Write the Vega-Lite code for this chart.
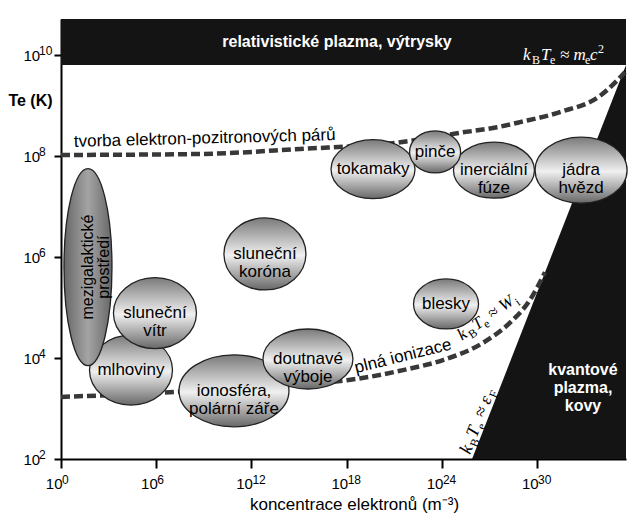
{
"$schema":"https://vega.github.io/schema/vega-lite/v6.json",
"width":565,"height":440,
"autosize":{"type":"none"},
"padding":{"left":61,"top":19,"right":14,"bottom":64},
"background":"white",
"config":{"view":{"stroke":null},"font":"Liberation Sans","text":{"lineBreak":"\n"}},
"datasets":{
 "band":[{"n":0,"n2":35.6,"T":9.8,"T2":10.713}],
 "quantum":[{"n":25.9,"T":2},{"n":35.6,"T":9.8}],
 "curves":[
  {"curve":"pary","n":0,"T":8.02},{"curve":"pary","n":8.76,"T":8.04},{"curve":"pary","n":15.06,"T":8.14},{"curve":"pary","n":21.05,"T":8.26},{"curve":"pary","n":25.14,"T":8.46},{"curve":"pary","n":27.47,"T":8.57},{"curve":"pary","n":28.92,"T":8.67},{"curve":"pary","n":31.44,"T":8.87},{"curve":"pary","n":33.96,"T":9.19},{"curve":"pary","n":35.54,"T":9.66},
  {"curve":"ionizace","n":0,"T":3.23},{"curve":"ionizace","n":7.31,"T":3.33},{"curve":"ionizace","n":12.54,"T":3.45},{"curve":"ionizace","n":18.02,"T":3.56},{"curve":"ionizace","n":21.55,"T":3.76},{"curve":"ionizace","n":24.07,"T":3.96},{"curve":"ionizace","n":26.59,"T":4.3},{"curve":"ionizace","n":28.29,"T":4.7},{"curve":"ionizace","n":29.55,"T":5.15},{"curve":"ionizace","n":30.5,"T":5.7}
 ],
 "regions":[
  {"name":"mlhoviny","label":"mlhoviny","n":4.41,"T":3.76},
  {"name":"vitr","label":"sluneční\nvítr","n":5.92,"T":4.89},
  {"name":"korona","label":"sluneční\nkoróna","n":12.85,"T":6.06},
  {"name":"ionosfera","label":"ionosféra,\npolární záře","n":10.9,"T":3.35},
  {"name":"doutnave","label":"doutnavé\nvýboje","n":15.56,"T":3.98},
  {"name":"blesky","label":"blesky","n":24.26,"T":5.07},
  {"name":"tokamaky","label":"tokamaky","n":19.66,"T":7.74},
  {"name":"inercialni","label":"inerciální\nfúze","n":27.28,"T":7.72},
  {"name":"pince","label":"pinče","n":23.57,"T":8.08},
  {"name":"jadra","label":"jádra\nhvězd","n":32.77,"T":7.72}
 ],
 "mezi":[{"name":"mezi","label":"mezigalaktické\nprostředí","n":1.7,"T":5.8}],
 "bandText":[{"n":17.39,"T":10.26,"label":"relativistické plazma, výtrysky"},{"n":32.89,"T":3.76,"label":"kvantové\nplazma,\nkovy"}],
 "pairLabel":[{"n":0.82,"T":8.18,"label":"tvorba elektron-pozitronových párů"}],
 "ionLabel":[{"n":18.59,"T":3.7,"label":"plná ionizace"}],
 "xSup":[{"n":0,"T":2,"sup":"0"},{"n":6,"T":2,"sup":"6"},{"n":12,"T":2,"sup":"12"},{"n":18,"T":2,"sup":"18"},{"n":24,"T":2,"sup":"24"},{"n":30,"T":2,"sup":"30"}],
 "ySup":[{"n":0,"T":2,"sup":"2"},{"n":0,"T":4,"sup":"4"},{"n":0,"T":6,"sup":"6"},{"n":0,"T":8,"sup":"8"},{"n":0,"T":10,"sup":"10"}],
 "fA":[{"n":29.11,"T":9.9}],
 "fB":[{"n":25.27,"T":4.34}],
 "fC":[{"n":25.77,"T":2.08}]
},
"encoding":{
 "x":{"field":"n","type":"quantitative","scale":{"domain":[0,35.6],"nice":false,"zero":false},
  "axis":{"values":[0,6,12,18,24,30],"labelExpr":"'10'","labelFlush":false,"labelAlign":"right","labelOffset":1,"grid":false,"domainColor":"black","domainWidth":2,"tickColor":"black","tickWidth":2,"tickSize":9,"labelFontSize":15,"labelColor":"black","labelPadding":8,"labelFont":"Liberation Sans","title":"koncentrace elektronů (m⁻³)","titleFontSize":17,"titleFontWeight":"normal","titleColor":"black","titleFont":"Liberation Sans","titleX":293,"titleY":50,"titleAlign":"center","titleBaseline":"alphabetic"}},
 "y":{"field":"T","type":"quantitative","scale":{"domain":[2,10.713],"nice":false,"zero":false},
  "axis":{"values":[2,4,6,8,10],"labelExpr":"'10'","labelFlush":false,"labelAlign":"left","grid":false,"domainColor":"black","domainWidth":2,"tickColor":"black","tickWidth":2,"tickSize":7,"labelFontSize":15,"labelColor":"black","labelPadding":31,"labelFont":"Liberation Sans","title":"Te (K)","titleAngle":0,"titleX":-31,"titleY":81,"titleAlign":"center","titleBaseline":"middle","titleFontSize":16,"titleFontWeight":"bold","titleColor":"black","titleFont":"Liberation Sans"}}
},
"layer":[
 {"data":{"name":"band"},"mark":{"type":"rect","color":"#141414"},"encoding":{"x2":{"field":"n2"},"y2":{"field":"T2"}}},
 {"data":{"name":"quantum"},"mark":{"type":"area","color":"#141414","opacity":1},"encoding":{"y2":{"datum":2}}},
 {"data":{"name":"curves"},"mark":{"type":"line","color":"#383838","strokeWidth":4.5,"strokeDash":[9,4],"interpolate":"monotone"},"encoding":{"detail":{"field":"curve"}}},
 {"data":{"name":"regions"},"mark":{"type":"point","filled":true,"size":4,"opacity":1,"fillOpacity":1,"stroke":"#222","strokeWidth":1.3,
   "fill":{"gradient":"linear","x1":0,"y1":0,"x2":0,"y2":1,"stops":[{"offset":0,"color":"#7a7a7a"},{"offset":0.52,"color":"#f0f0f0"},{"offset":1,"color":"#686868"}]}},
  "encoding":{"shape":{"field":"name","type":"nominal","legend":null,"scale":{
   "domain":["mlhoviny","vitr","korona","ionosfera","doutnave","blesky","tokamaky","inercialni","pince","jadra"],
   "range":["M-41.5,0A41.5,35,0,1,1,41.5,0A41.5,35,0,1,1,-41.5,0Z","M-41.5,0A41.5,35.5,0,1,1,41.5,0A41.5,35.5,0,1,1,-41.5,0Z","M-41,0A41,36,0,1,1,41,0A41,36,0,1,1,-41,0Z","M-55,0A55,36,0,1,1,55,0A55,36,0,1,1,-55,0Z","M-45,0A45,30,0,1,1,45,0A45,30,0,1,1,-45,0Z","M-32.5,0A32.5,25,0,1,1,32.5,0A32.5,25,0,1,1,-32.5,0Z","M-42,0A42,29.5,0,1,1,42,0A42,29.5,0,1,1,-42,0Z","M-40.5,0A40.5,28,0,1,1,40.5,0A40.5,28,0,1,1,-40.5,0Z","M-25.5,0A25.5,21,0,1,1,25.5,0A25.5,21,0,1,1,-25.5,0Z","M-46,0A46,33,0,1,1,46,0A46,33,0,1,1,-46,0Z"]}}}},
 {"data":{"name":"mezi"},"mark":{"type":"point","filled":true,"size":4,"opacity":1,"fillOpacity":1,"stroke":"#222","strokeWidth":1.3,"shape":"M-24,0A24,98.5,0,1,1,24,0A24,98.5,0,1,1,-24,0Z",
   "fill":{"gradient":"linear","x1":0,"y1":0,"x2":1,"y2":0,"stops":[{"offset":0,"color":"#666666"},{"offset":0.5,"color":"#a4a4a4"},{"offset":1,"color":"#666666"}]}}},
 {"data":{"name":"regions"},"mark":{"type":"text","fontSize":17,"lineHeight":18,"align":"center","baseline":"middle","color":"black","lineBreak":"\n"},"encoding":{"text":{"field":"label"}}},
 {"data":{"name":"mezi"},"mark":{"type":"text","fontSize":16,"lineHeight":16,"align":"center","baseline":"middle","color":"black","angle":-90,"lineBreak":"\n"},"encoding":{"text":{"field":"label"}}},
 {"data":{"name":"bandText"},"mark":{"type":"text","fontSize":16,"fontWeight":"bold","lineHeight":18,"align":"center","baseline":"middle","color":"white","lineBreak":"\n"},"encoding":{"text":{"field":"label"}}},
 {"data":{"name":"pairLabel"},"mark":{"type":"text","fontSize":17,"align":"left","baseline":"alphabetic","color":"black","angle":-1.5},"encoding":{"text":{"field":"label"}}},
 {"data":{"name":"ionLabel"},"mark":{"type":"text","fontSize":17,"align":"left","baseline":"alphabetic","color":"black","angle":-14},"encoding":{"text":{"field":"label"}}},
 {"data":{"name":"xSup"},"mark":{"type":"text","fontSize":12,"align":"left","baseline":"top","color":"black","dx":1,"dy":16},"encoding":{"text":{"field":"sup","type":"nominal"}}},
 {"data":{"name":"ySup"},"mark":{"type":"text","fontSize":12,"align":"left","baseline":"middle","color":"black","dx":-22,"dy":-4},"encoding":{"text":{"field":"sup","type":"nominal"}}},
 {"data":{"name":"fA"},"mark":{"type":"text","text":"k","align":"left","baseline":"alphabetic","font":"Liberation Serif","fontStyle":"italic","fontSize":17,"color":"white","dx":0}},
 {"data":{"name":"fA"},"mark":{"type":"text","text":"B","align":"left","baseline":"alphabetic","font":"Liberation Serif","fontSize":12,"color":"white","dx":9,"dy":4}},
 {"data":{"name":"fA"},"mark":{"type":"text","text":"T","align":"left","baseline":"alphabetic","font":"Liberation Serif","fontStyle":"italic","fontSize":17,"color":"white","dx":18}},
 {"data":{"name":"fA"},"mark":{"type":"text","text":"e","align":"left","baseline":"alphabetic","font":"Liberation Serif","fontSize":12,"color":"white","dx":27,"dy":4}},
 {"data":{"name":"fA"},"mark":{"type":"text","text":"≈ m","align":"left","baseline":"alphabetic","font":"Liberation Serif","fontStyle":"italic","fontSize":17,"color":"white","dx":37}},
 {"data":{"name":"fA"},"mark":{"type":"text","text":"e","align":"left","baseline":"alphabetic","font":"Liberation Serif","fontSize":12,"color":"white","dx":62,"dy":4}},
 {"data":{"name":"fA"},"mark":{"type":"text","text":"c","align":"left","baseline":"alphabetic","font":"Liberation Serif","fontStyle":"italic","fontSize":17,"color":"white","dx":67}},
 {"data":{"name":"fA"},"mark":{"type":"text","text":"2","align":"left","baseline":"alphabetic","font":"Liberation Serif","fontSize":12,"color":"white","dx":75,"dy":-7}},
 {"data":{"name":"fB"},"mark":{"type":"text","text":"k","align":"left","baseline":"alphabetic","font":"Liberation Serif","fontStyle":"italic","fontSize":17,"color":"black","angle":-35,"dx":0}},
 {"data":{"name":"fB"},"mark":{"type":"text","text":"B","align":"left","baseline":"alphabetic","font":"Liberation Serif","fontSize":12,"color":"black","angle":-35,"dx":9,"dy":4}},
 {"data":{"name":"fB"},"mark":{"type":"text","text":"T","align":"left","baseline":"alphabetic","font":"Liberation Serif","fontStyle":"italic","fontSize":17,"color":"black","angle":-35,"dx":18}},
 {"data":{"name":"fB"},"mark":{"type":"text","text":"e","align":"left","baseline":"alphabetic","font":"Liberation Serif","fontSize":12,"color":"black","angle":-35,"dx":27,"dy":4}},
 {"data":{"name":"fB"},"mark":{"type":"text","text":"≈ W","align":"left","baseline":"alphabetic","font":"Liberation Serif","fontStyle":"italic","fontSize":17,"color":"black","angle":-35,"dx":37}},
 {"data":{"name":"fB"},"mark":{"type":"text","text":"i","align":"left","baseline":"alphabetic","font":"Liberation Serif","fontSize":12,"color":"black","angle":-35,"dx":66,"dy":4}},
 {"data":{"name":"fC"},"mark":{"type":"text","text":"k","align":"left","baseline":"alphabetic","font":"Liberation Serif","fontStyle":"italic","fontSize":18,"color":"black","angle":-68.7,"dx":0}},
 {"data":{"name":"fC"},"mark":{"type":"text","text":"B","align":"left","baseline":"alphabetic","font":"Liberation Serif","fontSize":12,"color":"black","angle":-68.7,"dx":9,"dy":4}},
 {"data":{"name":"fC"},"mark":{"type":"text","text":"T","align":"left","baseline":"alphabetic","font":"Liberation Serif","fontStyle":"italic","fontSize":18,"color":"black","angle":-68.7,"dx":18}},
 {"data":{"name":"fC"},"mark":{"type":"text","text":"e","align":"left","baseline":"alphabetic","font":"Liberation Serif","fontSize":12,"color":"black","angle":-68.7,"dx":28,"dy":4}},
 {"data":{"name":"fC"},"mark":{"type":"text","text":"≈ ε","align":"left","baseline":"alphabetic","font":"Liberation Serif","fontStyle":"italic","fontSize":18,"color":"black","angle":-68.7,"dx":39}},
 {"data":{"name":"fC"},"mark":{"type":"text","text":"F","align":"left","baseline":"alphabetic","font":"Liberation Serif","fontSize":12,"color":"black","angle":-68.7,"dx":62,"dy":4}}
]
}
